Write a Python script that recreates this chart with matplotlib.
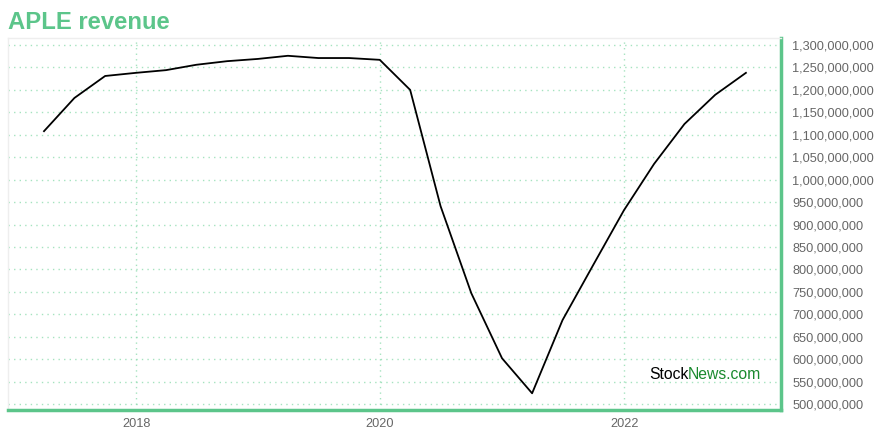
import matplotlib
matplotlib.use("Agg")
import matplotlib.pyplot as plt
import matplotlib.dates as mdates
import matplotlib.ticker as mticker
import pandas as pd

# Trimestres (fin de trimestre) y revenue TTM
fechas = pd.date_range("2017-03-31", periods=24, freq="QE")
revenue = [1108e6, 1182e6, 1231e6, 1238e6, 1244e6, 1256e6, 1264e6, 1269e6,
           1276e6, 1271e6, 1271e6, 1267e6, 1200e6, 941e6, 747e6, 602e6,
           524e6, 687e6, 810e6, 932e6, 1035e6, 1124e6, 1189e6, 1238e6]

verde = "#5cc58a"
gris = "#666666"

fig = plt.figure(figsize=(8.8, 4.4), dpi=100)
ax = fig.add_axes([0.009, 0.068, 0.8785, 0.8456])

ax.plot(fechas, revenue, color="black", linewidth=1.3)

# Ejes
ax.set_ylim(486.6e6, 1315.6e6)
ax.set_xlim(pd.Timestamp("2016-12-13"), pd.Timestamp("2023-04-15"))
ax.yaxis.tick_right()
ax.yaxis.set_major_locator(mticker.MultipleLocator(50e6))
ax.yaxis.set_major_formatter(mticker.FuncFormatter(lambda v, p: f"{int(round(v)):,}"))
ax.xaxis.set_major_locator(mdates.YearLocator(2))
ax.xaxis.set_major_formatter(mdates.DateFormatter("%Y"))
ax.tick_params(axis="both", length=0, labelsize=9.2, colors=gris, pad=6)
ax.tick_params(axis="y", pad=8)

# Rejilla punteada
ax.grid(True, color="#8fdcb0", linestyle=(0, (1, 3)), linewidth=1, alpha=0.8)

# Bordes
for lado in ["left", "top"]:
    ax.spines[lado].set_color("#eeeeee")
    ax.spines[lado].set_linewidth(1)
for lado in ["right", "bottom"]:
    ax.spines[lado].set_color(verde)
    ax.spines[lado].set_linewidth(2.5)

# Titulo
fig.text(0.009, 0.948, "APLE revenue", color=verde, fontsize=17.2, fontweight="bold",
         family="Liberation Sans", va="center", ha="left")

# Marca de agua
t1 = ax.text(0.829, 0.095, "Stock", transform=ax.transAxes, fontsize=11.3,
             color="black", family="Liberation Sans", ha="left", va="center")
fig.canvas.draw()
bb = t1.get_window_extent().transformed(ax.transAxes.inverted())
ax.text(bb.x1, 0.095, "News.com", transform=ax.transAxes, fontsize=11.3,
        color="#1a8a2e", family="Liberation Sans", ha="left", va="center")

for lbl in ax.get_xticklabels() + ax.get_yticklabels():
    lbl.set_family("Liberation Sans")

fig.savefig("out.png", dpi=100)
